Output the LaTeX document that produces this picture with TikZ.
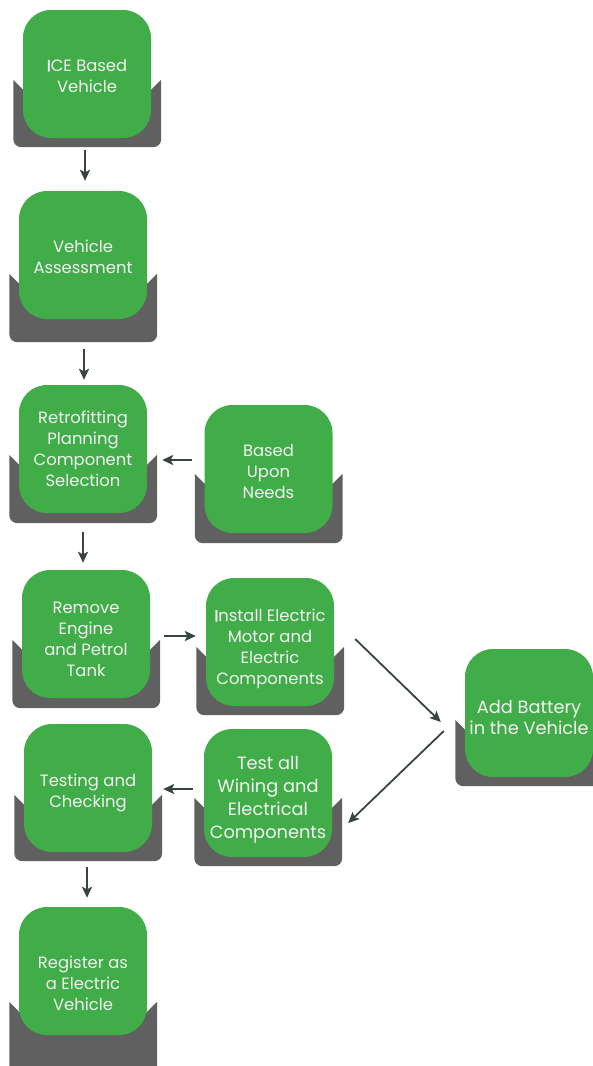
\documentclass[tikz,border=0pt]{standalone}
\usepackage{fontspec}
\setmainfont{Poppins}
\newfontfamily\heavyI[FakeBold=1.5]{Poppins}
\usetikzlibrary{arrows.meta,calc,backgrounds}
\definecolor{boxgreen}{HTML}{41AD49}
\definecolor{traygray}{HTML}{606060}
\definecolor{arrowcol}{HTML}{37443F}
\definecolor{txtcol}{HTML}{F2F2F2}
\tikzset{
  gbox/.style={rectangle, rounded corners=28pt, fill=boxgreen, minimum width=128pt,
    minimum height=128pt, inner sep=0pt},
  btxt/.style={inner sep=0pt, align=center, text=txtcol, font=\fontsize{16.4}{21}\selectfont},
  bigtxt/.style={font=\fontsize{17.8}{23}\selectfont},
  midtxt/.style={font=\fontsize{17.8}{21}\selectfont},
  arr/.style={draw=arrowcol, line width=1.8pt, -{Stealth[length=11pt,width=10pt,inset=2.5pt]}}
}
% #1 name, #2 position, #3 text shift down, #4 extra text style, #5 text
\newcommand\stepnode[5]{%
  \node[gbox] (#1) at #2 {};
  \node[btxt,#4] (#1t) at ([yshift=-#3]#1.center) {#5};}
\newcommand\traybox[3]{%
  \path let \p1=(#1.north west), \p2=(#1.south east) in
    [fill=traygray]
    (\x1-9.5pt,\y1-#2) -- (\x1+12pt,\y1-#2-21.5pt) -- (\x2-12pt,\y1-#2-21.5pt) -- (\x2+10pt,\y1-#2)
    [rounded corners=8pt] -- (\x2+10pt,\y2-#3) -- (\x1-9.5pt,\y2-#3) [sharp corners] -- cycle;}
\begin{document}
\begin{tikzpicture}[x=1pt,y=-1pt]
\useasboundingbox (0,0) rectangle (592,1066);
\stepnode{n1}{(87,74)}{2pt}{}{{\heavyI I}CE Based\\Vehicle}
\stepnode{n2}{(83,255)}{2pt}{}{Vehicle\\Assessment}
\stepnode{n3}{(83,449)}{-0.5pt}{}{Retrofitting\\Planning\\Component\\Selection}
\stepnode{n4}{(268.5,469)}{2pt}{}{Based\\Upon\\Needs}
\stepnode{n5}{(86,634)}{5pt}{}{Remove\\Engine\\and Petrol\\Tank}
\stepnode{n6}{(270,642)}{7pt}{}{{\heavyI I}nstall Electric\\Motor and\\Electric\\Components}
\stepnode{n7}{(529,713)}{4pt}{midtxt}{Add Battery\\in the Vehicle}
\stepnode{n8}{(268,793)}{7pt}{bigtxt}{Test all\\Wining and\\Electrical\\Components}
\stepnode{n9}{(88,788)}{5pt}{}{Testing and\\Checking}
\stepnode{n10}{(83,971)}{12pt}{}{Register as\\a Electric\\Vehicle}
\begin{scope}[on background layer]
\traybox{n1}{70pt}{9pt}
\traybox{n2}{83pt}{23pt}
\traybox{n3}{70pt}{10pt}
\traybox{n4}{69pt}{10pt}
\traybox{n5}{70pt}{10pt}
\traybox{n6}{69pt}{9pt}
\traybox{n7}{71pt}{9pt}
\traybox{n8}{69pt}{9pt}
\traybox{n9}{71pt}{9pt}
\traybox{n10}{95pt}{45pt}
\end{scope}
\draw[arr] ([xshift=-2pt,yshift=-12pt]n1.south) -- ([xshift=2pt,yshift=10pt]n2.north);
\draw[arr] ([xshift=1pt,yshift=-30pt]n2.south) -- ([xshift=1pt,yshift=5pt]n3.north);
\draw[arr] ([xshift=0pt,yshift=-19pt]n3.south) -- ([xshift=-3pt,yshift=7pt]n5.north);
\draw[arr] ([xshift=-12pt,yshift=9pt]n4.west) -- ([xshift=15pt,yshift=-11pt]n3.east);
\draw[arr] ([xshift=14pt,yshift=-2pt]n5.east) -- ([xshift=-10pt,yshift=6pt]n6.west);
\draw[arr] ([xshift=21pt,yshift=3pt]n6.east) -- ([xshift=-24pt,yshift=-9pt]n7.west);
\draw[arr] ([xshift=-21pt,yshift=-18pt]n7.west) -- ([xshift=16pt,yshift=-30pt]n8.east);
\draw[arr] ([xshift=-11pt,yshift=4pt]n8.west) -- ([xshift=11pt,yshift=-1pt]n9.east);
\draw[arr] ([xshift=-1pt,yshift=-15pt]n9.south) -- ([xshift=4pt,yshift=9pt]n10.north);
\end{tikzpicture}
\end{document}
